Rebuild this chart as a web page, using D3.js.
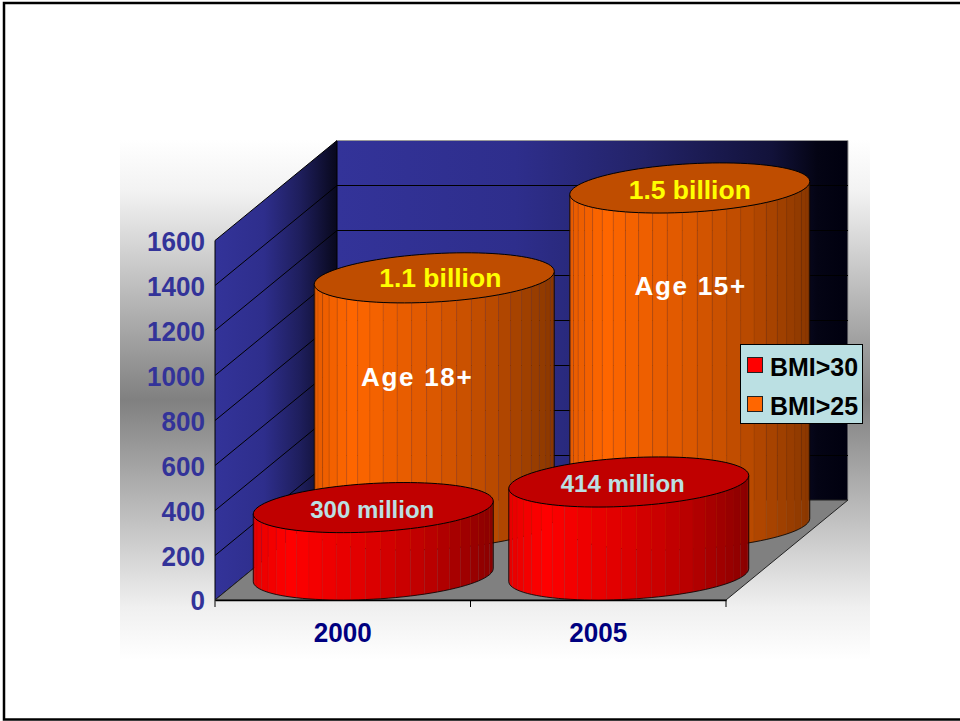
<!DOCTYPE html>
<html>
<head>
<meta charset="utf-8">
<script src="https://cdn.jsdelivr.net/npm/d3@7/dist/d3.min.js"></script>
<style>
html,body{margin:0;padding:0;background:#fff}
svg{display:block}
text{font-family:"Liberation Sans",Arial,sans-serif;font-weight:bold}
</style>
</head>
<body>
<script>
// Overweight and obesity worldwide, adults, in millions
const years = ["2000", "2005"];
const seriesNames = ["BMI>30", "BMI>25"];
const bmi30 = [300, 414];
const bmi25 = [1100, 1500];
const yTicks = [0, 200, 400, 600, 800, 1000, 1200, 1400, 1600];
const topLabels30 = ["300 million", "414 million"];
const topLabels25 = ["1.1 billion", "1.5 billion"];
const ageLabels = ["Age 18+", "Age 15+"];

const W = 960, H = 721;
const svg = d3.select("body").append("svg").attr("width", W).attr("height", H);
const defs = svg.append("defs");

// Oblique projection of the chart box
const front = {x0: 215, x1: 726, y0: 600, y1: 240.5};
const depth = {dx: 122, dy: -100};
const x = d3.scaleBand().domain(years).range([front.x0, front.x1]);
const y = d3.scaleLinear().domain([0, 1600]).range([front.y0, front.y1]);
// Series sit at fixed fractions of the box depth
const depthPos = d3.scalePoint().domain(seriesNames).range([0.25, 0.75]);

function gradient(id, attrs, stops) {
  const g = defs.append("linearGradient").attr("id", id).attr("gradientUnits", "userSpaceOnUse");
  Object.entries(attrs).forEach(([k, v]) => g.attr(k, v));
  stops.forEach(([o, c]) => g.append("stop").attr("offset", o).attr("stop-color", c));
}
gradient("panelFill", {x1: 0, y1: 140, x2: 0, y2: 660},
  [[0, "#ffffff"], [0.1, "#f2f2f2"], [0.5, "#808080"], [0.9, "#f0f0f0"], [1, "#ffffff"]]);
gradient("sideWall", {x1: 215, y1: 0, x2: 337, y2: 0},
  [[0, "#333399"], [0.4, "#2e2e8c"], [0.7, "#1e1e5c"], [1, "#08081c"]]);
gradient("backWall", {x1: 337, y1: 0, x2: 848, y2: 0},
  [[0, "#333399"], [0.35, "#2e2e8c"], [0.6, "#232368"], [0.85, "#12123a"], [0.94, "#040414"], [1, "#00000f"]]);

// Page frame and soft panel behind the chart
svg.append("rect").attr("x", 4).attr("y", 3).attr("width", 970).attr("height", 716.5)
  .attr("fill", "#fff").attr("stroke", "#000").attr("stroke-width", 2.5);
svg.append("rect").attr("x", 120).attr("y", 140).attr("width", 750).attr("height", 520)
  .attr("fill", "url(#panelFill)");

// Walls and floor
const pt = (px, py) => [px, py].join(",");
const bx0 = front.x0 + depth.dx, bx1 = front.x1 + depth.dx;
const by0 = front.y0 + depth.dy, by1 = front.y1 + depth.dy;
const walls = svg.append("g");
walls.append("polygon")
  .attr("points", [pt(bx0, by1), pt(bx1, by1), pt(bx1, by0), pt(bx0, by0)].join(" "))
  .attr("fill", "url(#backWall)");
walls.append("polygon")
  .attr("points", [pt(front.x0, front.y1), pt(bx0, by1), pt(bx0, by0), pt(front.x0, front.y0)].join(" "))
  .attr("fill", "url(#sideWall)").attr("stroke", "#000").attr("stroke-width", 1);
walls.append("polyline").attr("points", [pt(bx0, by1), pt(bx1, by1), pt(bx1, by0)].join(" "))
  .attr("fill", "none").attr("stroke", "#9a9a9a").attr("stroke-width", 1);
walls.append("polygon")
  .attr("points", [pt(front.x0, front.y0), pt(bx0, by0), pt(bx1, by0), pt(front.x1, front.y0)].join(" "))
  .attr("fill", "#808080").attr("stroke", "#222").attr("stroke-width", 1);

// Gridlines run across both walls
yTicks.slice(1, -1).forEach(t => {
  const yy = Math.round(y(t)) + 0.5;
  walls.append("polyline")
    .attr("points", [pt(front.x0, yy), pt(bx0, yy + depth.dy), pt(bx1, yy + depth.dy)].join(" "))
    .attr("fill", "none").attr("stroke", "#000").attr("stroke-width", 1);
});

// Axes: digits are drawn tall and narrowed to a fixed advance
const tallDigits = sel => sel
  .style("font-size", "28px")
  .style("font-family", '"Liberation Sans",Arial,sans-serif').style("font-weight", "bold")
  .attr("lengthAdjust", "spacingAndGlyphs")
  .attr("textLength", function () { return this.textContent.length * 14.5; });

const yAxis = d3.axisLeft(y).tickValues(yTicks).tickFormat(d3.format("d")).tickSize(0).tickPadding(10);
const yG = svg.append("g").attr("transform", `translate(${front.x0},1)`).call(yAxis);
yG.select(".domain").remove();
yG.selectAll("text").attr("fill", "#333399").call(tallDigits);

const xAxis = d3.axisBottom(x).tickSize(0).tickPadding(22);
const xG = svg.append("g").attr("transform", `translate(0,${front.y0})`).call(xAxis);
xG.select(".domain").attr("stroke", "#000").attr("stroke-width", 1.5);
xG.selectAll("text").attr("fill", "#000080").call(tallDigits);
const edgeTicks = [front.x0, ...years.map(d => x(d) + x.bandwidth())];
svg.selectAll(".edge-tick").data(edgeTicks).join("line").attr("class", "edge-tick")
  .attr("x1", d => d).attr("x2", d => d).attr("y1", front.y0).attr("y2", front.y0 + 7)
  .attr("stroke", "#000").attr("stroke-width", 1);

// Cylinders: sheared ellipse for the lid, shaded facets for the wall
const rx = 120, ry = 24.2, shear = -6.5, facetStep = Math.PI / 25;
const ellipsePoint = (cx, cy, t) => [cx + rx * Math.cos(t), cy + ry * Math.sin(t) + shear * Math.cos(t)];
const shade = d3.scaleLinear().domain([0, 0.15, 0.5, 0.75, 1]).range([0.9, 1, 0.86, 0.72, 0.54]);
const lidLine = d3.line().curve(d3.curveLinearClosed);

function cylinder(g, year, name, value, sideColor, lidColor, facetStroke, seamOpacity) {
  const d = depthPos(name);
  const cx = x(year) + x.bandwidth() / 2 + depth.dx * d;
  const baseY = y(0) + depth.dy * d;
  const topY = y(value) + depth.dy * d;
  const baseColor = d3.rgb(sideColor);

  const facets = d3.range(25).map(i => Math.PI - i * facetStep);
  // Fill first, then a faint seam on every facet
  g.selectAll(null).data(facets).join("path")
    .attr("d", t0 => {
      const t1 = t0 - facetStep;
      const a = ellipsePoint(cx, topY, t0), b = ellipsePoint(cx, topY, t1);
      const c = ellipsePoint(cx, baseY, t1), e = ellipsePoint(cx, baseY, t0);
      return `M${a}L${b}L${c}L${e}Z`;
    })
    .attr("fill", t0 => {
      const f = (Math.cos(t0 - facetStep / 2) + 1) / 2;
      const k = shade(f);
      return d3.rgb(baseColor.r * k, baseColor.g * k, baseColor.b * k).toString();
    })
    .attr("stroke", facetStroke).attr("stroke-width", 0.5).attr("stroke-opacity", seamOpacity);

  // Outline of the wall: both verticals and the lower front arc
  const arc = d3.range(0, 51).map(i => ellipsePoint(cx, baseY, Math.PI - i * Math.PI / 50));
  g.append("path").attr("d", d3.line()(arc)).attr("fill", "none").attr("stroke", "#000").attr("stroke-width", 0.8);
  g.append("path")
    .attr("d", d3.line()([ellipsePoint(cx, topY, 0), ellipsePoint(cx, baseY, 0)]))
    .attr("stroke", "#000").attr("stroke-width", 0.8);
  g.append("path")
    .attr("d", d3.line()([ellipsePoint(cx, topY, Math.PI), ellipsePoint(cx, baseY, Math.PI)]))
    .attr("stroke", "#000").attr("stroke-width", 0.8);

  const lid = d3.range(0, 100).map(i => ellipsePoint(cx, topY, i * Math.PI / 50));
  g.append("path").attr("d", lidLine(lid)).attr("fill", lidColor).attr("stroke", "#000").attr("stroke-width", 1);
  return {cx, topY};
}

const bars = svg.append("g");
const back = years.map((yr, i) => cylinder(bars.append("g"), yr, "BMI>25", bmi25[i], "#ff6600", "#bf4d00", "#8a3a00", 0.3));
const frontRow = years.map((yr, i) => cylinder(bars.append("g"), yr, "BMI>30", bmi30[i], "#ff0000", "#c00000", "#8a1010", 0.15));

// Annotations
const label = (s, px, py, fill, size, spacing) => svg.append("text")
  .attr("x", px).attr("y", py).attr("text-anchor", "middle").attr("dominant-baseline", "central")
  .attr("fill", fill).style("font-size", size + "px").style("letter-spacing", (spacing || 0) + "px").text(s);
back.forEach((c, i) => label(topLabels25[i], c.cx + 6 * (1 - i), c.topY + 0.5 + (i ? 2 : 0), "#ffff00", 26.5));
back.forEach((c, i) => label(ageLabels[i], c.cx - 17 + i * 18, c.topY + 99 - i, "#ffffff", 26, 1.7));
frontRow.forEach((c, i) => label(topLabels30[i], c.cx - 1 - i * 5, c.topY + 2, "#bbe0e3", 24));

// Legend
const legend = svg.append("g");
legend.append("rect").attr("x", 740.5).attr("y", 344.5).attr("width", 122).attr("height", 79)
  .attr("fill", "#bbe0e3").attr("stroke", "#000").attr("stroke-width", 1);
const legendColors = ["#ff0000", "#ff6600"];
const legendY = d3.scalePoint().domain(seriesNames).range([365, 404]);
seriesNames.forEach((n, i) => {
  legend.append("rect").attr("x", 747.5).attr("y", legendY(n) - 7.5).attr("width", 15).attr("height", 15)
    .attr("fill", legendColors[i]).attr("stroke", "#222").attr("stroke-width", 1);
  legend.append("text").attr("x", 770).attr("y", legendY(n) + 2).attr("dominant-baseline", "central")
    .attr("fill", "#000").style("font-size", "26px")
    .attr("lengthAdjust", "spacingAndGlyphs").attr("textLength", 88).text(n);
});
</script>
</body>
</html>
